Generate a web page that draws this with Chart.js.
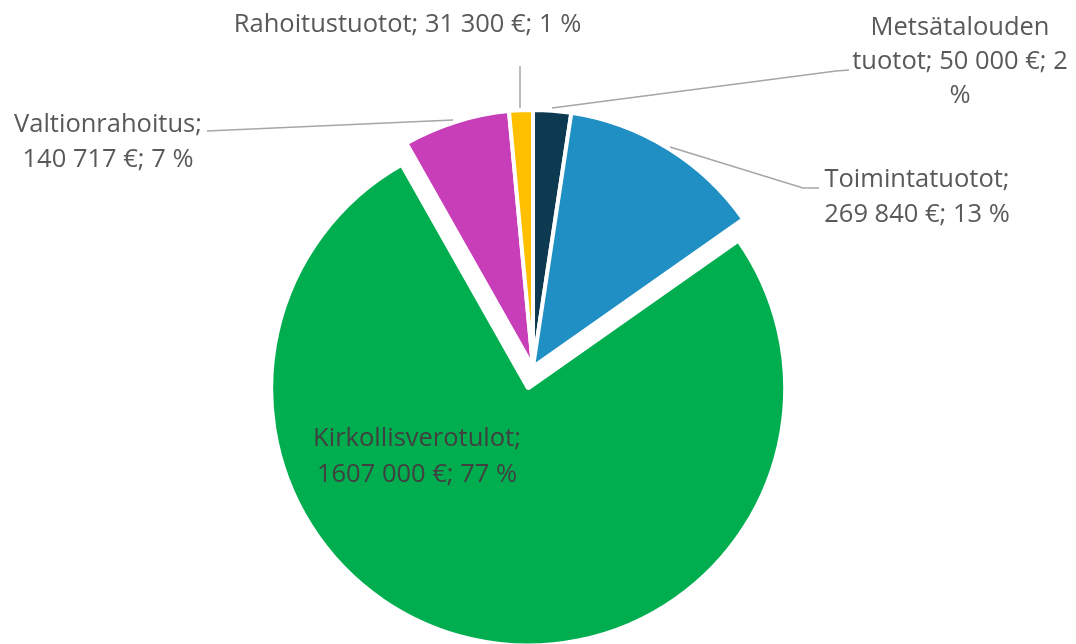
<!DOCTYPE html>
<html>
<head>
<meta charset="utf-8">
<script src="https://cdn.jsdelivr.net/npm/chart.js@4/dist/chart.umd.min.js"></script>
<style>
html, body { margin: 0; padding: 0; background: #ffffff; overflow: hidden; }
#wrap { width: 1076px; height: 644px; position: relative; }
</style>
</head>
<body>
<div id="wrap"><canvas id="c" width="1076" height="644"></canvas></div>
<script>
// ---- data ----
const categories = ['Metsätalouden tuotot', 'Toimintatuotot', 'Kirkollisverotulot', 'Valtionrahoitus', 'Rahoitustuotot'];
const values = [50000, 269840, 1607000, 140717, 31300];
const valueTexts = ['50 000 €', '269 840 €', '1607 000 €', '140 717 €', '31 300 €'];
const sliceColors = ['#0E3A51', '#208FC4', '#00AE4F', '#C83DB8', '#FFC000'];
const explodedSlice = 2;

// ---- layout / style ----
const explodeDistance = 22;
const labelFont = '25.5px "Open Sans"';
const labelLayout = [
  { x: 960,   y: 35,    lh: 34, breaks: [1, 6], color: '#595959', line: [[552, 108], [836, 71], [849, 70]] },
  { x: 917,   y: 187,   lh: 35, breaks: [1],    color: '#595959', line: [[670, 147], [803, 188], [819, 188]] },
  { x: 417,   y: 445.5, lh: 36, breaks: [1],    color: '#404040', line: null },
  { x: 108,   y: 132,   lh: 35, breaks: [1],    color: '#595959', line: [[453, 120], [207, 131]] },
  { x: 407.5, y: 32,    lh: 35, breaks: [],     color: '#595959', line: [[520, 108], [520, 66]] }
];

const total = values.reduce((a, b) => a + b, 0);
const percentTexts = values.map(v => Math.round(v / total * 100) + ' %');

function labelLines(i) {
  const words = (categories[i] + '; ' + valueTexts[i] + '; ' + percentTexts[i]).split(' ');
  const cuts = [0, ...labelLayout[i].breaks, words.length];
  const out = [];
  for (let k = 0; k < cuts.length - 1; k++) out.push(words.slice(cuts[k], cuts[k + 1]).join(' '));
  return out;
}

const explodePlugin = {
  id: 'explodeDraw',
  beforeDatasetDraw(chart, args) {
    const ctx = chart.ctx;
    args.meta.data.forEach((arc, i) => {
      ctx.save();
      if (i === explodedSlice) {
        const mid = (arc.startAngle + arc.endAngle) / 2;
        ctx.translate(Math.cos(mid) * explodeDistance, Math.sin(mid) * explodeDistance);
      }
      arc.draw(ctx);
      ctx.restore();
    });
    return false;
  }
};

const labelPlugin = {
  id: 'sliceLabels',
  afterDraw(chart) {
    const ctx = chart.ctx;
    ctx.save();
    labelLayout.forEach(l => {
      if (!l.line) return;
      ctx.beginPath();
      ctx.strokeStyle = '#A6A6A6';
      ctx.lineWidth = 1.5;
      ctx.moveTo(l.line[0][0], l.line[0][1]);
      for (let k = 1; k < l.line.length; k++) ctx.lineTo(l.line[k][0], l.line[k][1]);
      ctx.stroke();
    });
    ctx.font = labelFont;
    ctx.textAlign = 'center';
    ctx.textBaseline = 'alphabetic';
    labelLayout.forEach((l, i) => {
      ctx.fillStyle = l.color;
      labelLines(i).forEach((t, k) => ctx.fillText(t, l.x, l.y + k * l.lh));
    });
    ctx.restore();
  }
};

new Chart(document.getElementById('c'), {
  type: 'pie',
  data: {
    labels: categories,
    datasets: [{
      data: values,
      backgroundColor: sliceColors,
      borderColor: '#FFFFFF',
      borderWidth: 4
    }]
  },
  options: {
    responsive: false,
    devicePixelRatio: 1,
    animation: false,
    events: [],
    radius: 257,
    clip: false,
    layout: { padding: { left: 0, right: 10, top: 90, bottom: 0 } },
    plugins: {
      legend: { display: false },
      tooltip: { enabled: false }
    }
  },
  plugins: [explodePlugin, labelPlugin]
});
</script>
</body>
</html>
